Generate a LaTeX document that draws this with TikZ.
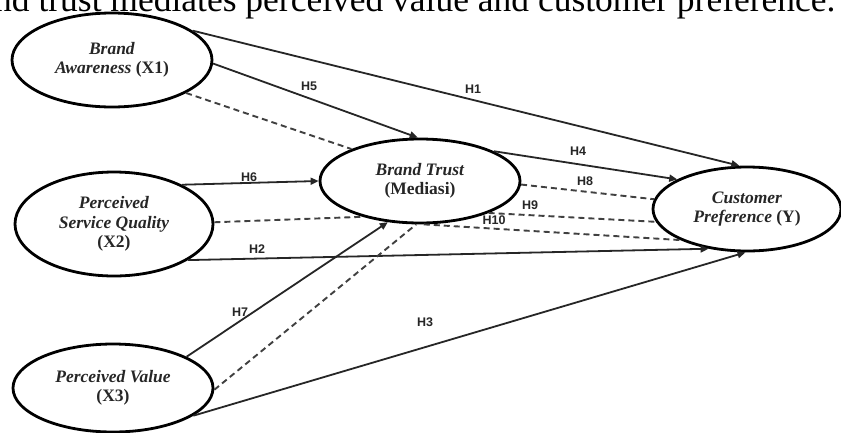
\documentclass[tikz,border=0pt]{standalone}
\usepackage{graphicx}
\usepackage{fontspec}
\setmainfont{Liberation Serif}
\newfontfamily\labelfont{Liberation Sans}
\usetikzlibrary{shapes.geometric,arrows.meta}

\tikzset{
  construct/.style={ellipse, draw=black, fill=white, line width=2.8pt, inner sep=0pt,
    align=center, text=black!85, font=\fontsize{17.5}{19.5}\selectfont\bfseries},
  direct/.style={line width=1.8pt, draw=black!85, -{Triangle[length=8pt,width=7pt]}},
  mediated/.style={line width=1.9pt, draw=black!75, dash pattern=on 6pt off 4pt},
  hlabel/.style={font=\labelfont\bfseries\fontsize{12.5}{12.5}\selectfont, text=black!85, inner sep=0pt}
}

\begin{document}
\begin{tikzpicture}[x=1pt,y=-1pt]
\useasboundingbox (0,0) rectangle (841,432);
\clip (0,0) rectangle (841,432);
\fill[white] (0,0) rectangle (841,432);

% running text line above the model
\node[anchor=base west, inner sep=0pt] (caption) at (-6,11)
  {\resizebox{841pt}{!}{nd trust mediates perceived value and customer preference.}};

% constructs
\node[construct, minimum width=200pt, minimum height=94pt] (x1) at (112,60)
  {\textit{Brand}\\\textit{Awareness} (X1)};
\node[construct, minimum width=198pt, minimum height=104pt] (x2) at (114,224)
  {\textit{Perceived}\\\textit{Service Quality}\\(X2)};
\node[construct, minimum width=200pt, minimum height=88pt] (x3) at (113,388)
  {\textit{Perceived Value}\\(X3)};
\node[construct, minimum width=200pt, minimum height=84pt] (bt) at (420,181)
  {\textit{Brand Trust}\\(Mediasi)};
\node[construct, minimum width=188pt, minimum height=84pt] (y) at (747,209)
  {\textit{Customer}\\\textit{Preference} (Y)};

% direct paths
\draw[direct] (x1.20) -- (y.100);
\draw[direct] (x1.-2) -- (bt.93);
\draw[direct] (x2.30) -- (bt.west);
\draw[direct] (x2.-26) -- (y.226);
\draw[direct] (x3.23) -- (bt.-128);
\draw[direct] (x3.-19) -- (y.-92);
\draw[direct] (bt.22) -- (y.157);

% mediated paths through brand trust
\draw[mediated] (x1.-24) -- (bt.155);
\draw[mediated] (x2.1) -- (bt.212);
\draw[mediated] (x3.-1) -- (bt.-95);
\draw[mediated] (bt.-2) -- (y.174);
\draw[mediated] (bt.-25) -- (y.188);
\draw[mediated] (bt.-85) -- (y.205);

% hypothesis labels
\node[hlabel] (h1) at (473,89) {H1};
\node[hlabel] (h5) at (309,86) {H5};
\node[hlabel] (h4) at (578,151) {H4};
\node[hlabel] (h8) at (585,181) {H8};
\node[hlabel] (h9) at (530,205) {H9};
\node[hlabel] (h10) at (494,220) {H10};
\node[hlabel] (h6) at (249,177) {H6};
\node[hlabel] (h2) at (257,249) {H2};
\node[hlabel] (h7) at (240,312) {H7};
\node[hlabel] (h3) at (425,322) {H3};
\end{tikzpicture}
\end{document}
